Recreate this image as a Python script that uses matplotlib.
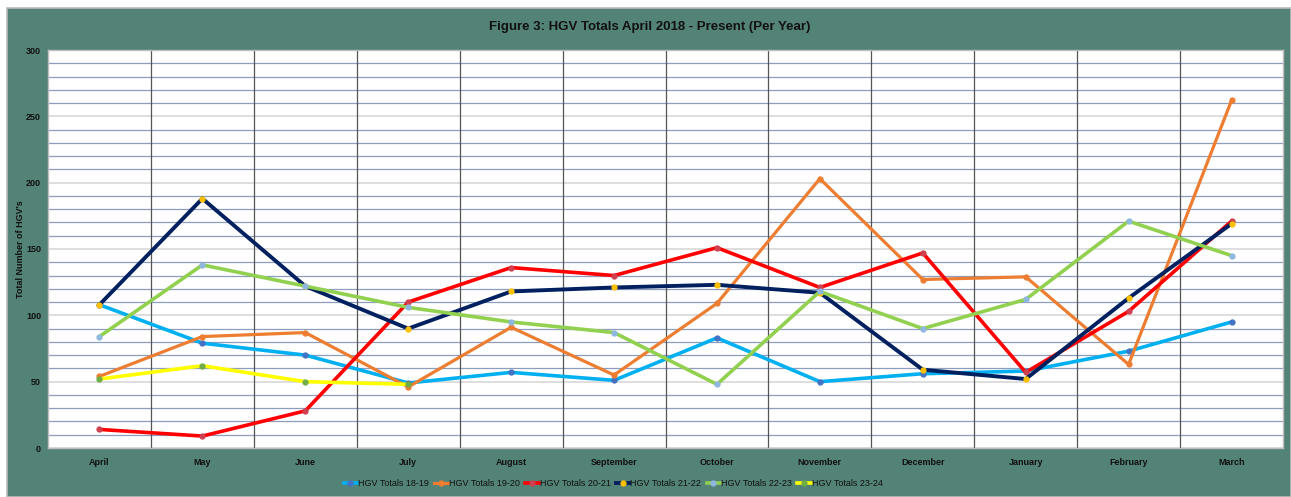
import numpy as np
import matplotlib.pyplot as plt
from matplotlib.patches import Rectangle
from matplotlib.ticker import MultipleLocator

# Data
months = ["April", "May", "June", "July", "August", "September", "October",
          "November", "December", "January", "February", "March"]

hgv_18_19 = [108, 79, 70, 49, 57, 51, 83, 50, 56, 58, 73, 95]
hgv_19_20 = [54, 84, 87, 46, 91, 55, 109, 203, 127, 129, 63, 262]
hgv_20_21 = [14, 9, 28, 110, 136, 130, 151, 121, 147, 57, 103, 171]
hgv_21_22 = [108, 188, 122, 90, 118, 121, 123, 117, 59, 52, 113, 169]
hgv_22_23 = [84, 138, 122, 106, 95, 87, 48, 118, 90, 112, 171, 145]
hgv_23_24 = [52, 62, 50, 48]

series = [
    ("HGV Totals 18-19", hgv_18_19, "#00B0F0", "#4472C4", 2.6),
    ("HGV Totals 19-20", hgv_19_20, "#ED7D31", "#ED7D31", 2.3),
    ("HGV Totals 20-21", hgv_20_21, "#FF0000", "#D04050", 2.6),
    ("HGV Totals 21-22", hgv_21_22, "#002060", "#FFC000", 2.8),
    ("HGV Totals 22-23", hgv_22_23, "#92D050", "#8FB8E0", 2.6),
    ("HGV Totals 23-24", hgv_23_24, "#FFFF00", "#70AD47", 2.6),
]

font = ["Liberation Sans", "DejaVu Sans"]
bg = "#538276"

fig = plt.figure(figsize=(12.91, 4.97), dpi=100)
fig.patch.set_facecolor("white")
fig.patches.append(Rectangle((7 / 1291, 0), 1 - 7 / 1291, 1 - 8 / 497,
                             transform=fig.transFigure, facecolor=bg,
                             edgecolor="#BBBBBB", linewidth=1.2, zorder=-5))

ax = fig.add_axes([48 / 1291, 49 / 497, 1235 / 1291, 398 / 497])
ax.set_facecolor("white")

x = np.arange(len(months))
for name, vals, col, mcol, lw in series:
    ax.plot(x[:len(vals)], vals, color=col, lw=lw, marker="o", ms=3.5,
            mfc=mcol, mec=mcol, label=name, zorder=3, solid_joinstyle="miter")

ax.set_xlim(-0.5, len(months) - 0.5)
ax.set_ylim(0, 300)

# horizontal gridlines: every 10 bluish, every 50 light grey
ax.yaxis.set_major_locator(MultipleLocator(50))
ax.yaxis.set_minor_locator(MultipleLocator(10))
ax.grid(which="minor", axis="y", color="#8C9DBE", lw=0.9, zorder=1)
ax.grid(which="major", axis="y", color="#D8D8D8", lw=1.2, zorder=1)

# vertical separators between months
for b in x[:-1] + 0.5:
    ax.axvline(b, color="#555555", lw=0.9, zorder=2)

ax.set_xticks(x)
ax.set_xticklabels(months)
ax.tick_params(axis="both", which="both", length=0, colors="#111111")
ax.tick_params(axis="x", pad=7)
ax.tick_params(axis="y", pad=5)
for lab in ax.get_xticklabels() + ax.get_yticklabels():
    lab.set_fontfamily(font)
    lab.set_fontweight("bold")
    lab.set_fontsize(6.5)

for side in ["top", "bottom", "left", "right"]:
    ax.spines[side].set_color("#BFBFBF")
    ax.spines[side].set_linewidth(1.0)

ax.set_ylabel("Total Number of HGV's", fontsize=6.5, fontweight="bold",
              color="#111111", family=font)
ax.yaxis.set_label_coords(-23 / 1235, 0.5)

fig.text(0.503, 1 - 27 / 497, "Figure 3: HGV Totals April 2018 - Present (Per Year)",
         ha="center", va="center", fontsize=9.5, fontweight="bold",
         family=font, color="#111111")

leg = fig.legend(loc="center", bbox_to_anchor=(0.475, 1 - 484 / 497), ncol=6,
                 frameon=False, handlelength=1.5, handletextpad=0.1,
                 columnspacing=0.6, prop={"family": font, "size": 6.5})
for t in leg.get_texts():
    t.set_color("#111111")

plt.savefig("out.png", dpi=100, facecolor=fig.get_facecolor())
